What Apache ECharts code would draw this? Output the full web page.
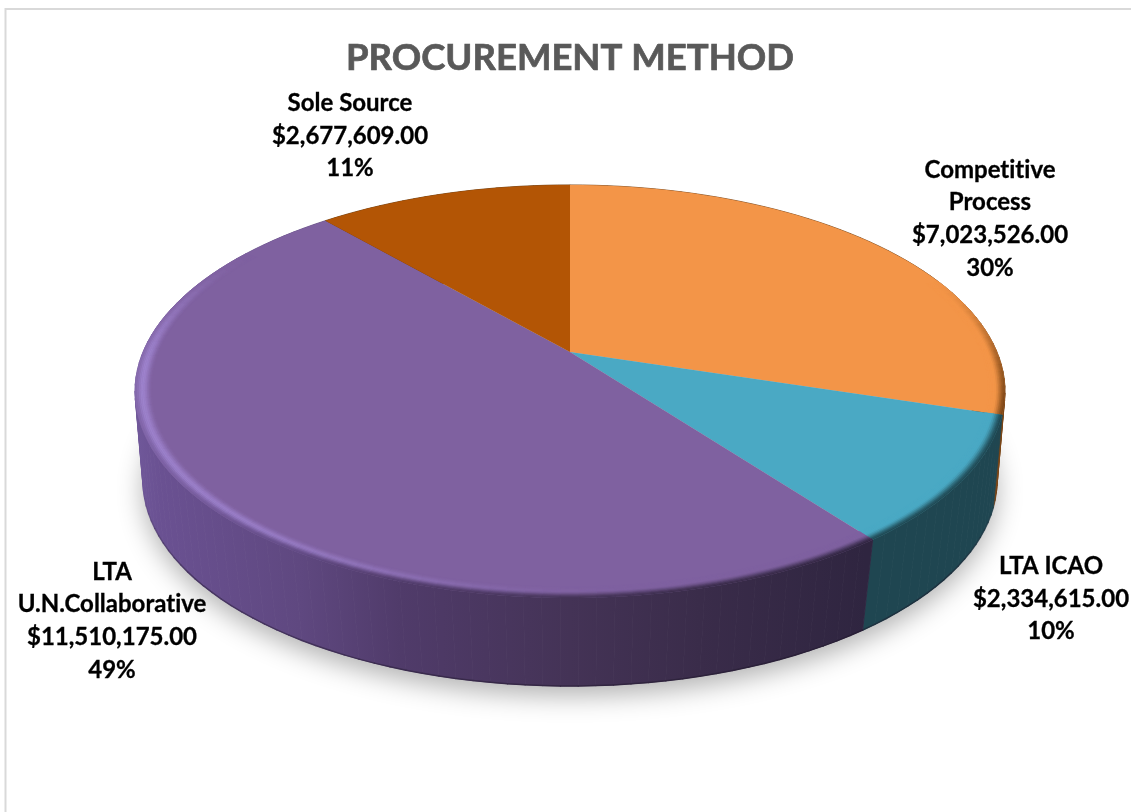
<!DOCTYPE html>
<html>
<head>
<meta charset="utf-8">
<style>html,body{margin:0;padding:0;background:#fff}#c{width:1131px;height:812px}</style>
<script src="https://cdn.jsdelivr.net/npm/echarts@6/dist/echarts.min.js"></script>
</head>
<body>
<div id="c"></div>
<script>
// ---- data ----
const chartTitle = 'PROCUREMENT METHOD';
const categories = ['Competitive\nProcess', 'LTA ICAO', 'LTA\nU.N.Collaborative', 'Sole Source'];
const amounts = [7023526, 2334615, 11510175, 2677609];

// ---- styles and layout ----
const faceColors = ['#f39548', '#4aa9c4', '#7f61a0', '#b35505'];
const lightColors = ['#f39548', '#4aa9c4', '#a085d0', '#b35505'];
const wallStops = [
  [[0, '#7a4516'], [2000, '#7a4516']],
  [[0, '#1f4651'], [2000, '#1f4651']],
  [[135, '#70589a'], [160, '#6a5192'], [300, '#5f4880'], [400, '#503b6a'], [570, '#443356'], [700, '#3a2c4a'], [866, '#2f2540'], [2000, '#2f2540']],
  [[0, '#6b3503'], [2000, '#6b3503']]
];
const labelCenters = [[990, 219], [1051, 599], [112, 621], [350, 136]];
const topPlane = {cx: 570, cy: 352, A: 427, B: 199, q: 0.191};
const basePlane = {cx: 570, cy: 445, A: 421, B: 200, q: 0.17};
const RIM_INNER = 0.962, RINGS = 10, STEP = 2;
const font = 'Lato, "Open Sans", sans-serif';

// Excel's font has no "ti" ligature: draw text without ligatures.
const nativeFill = CanvasRenderingContext2D.prototype.fillText;
CanvasRenderingContext2D.prototype.fillText = function () {
  this.textRendering = 'optimizeSpeed';
  return nativeFill.apply(this, arguments);
};
const nativeStroke = CanvasRenderingContext2D.prototype.strokeText;
CanvasRenderingContext2D.prototype.strokeText = function () {
  this.textRendering = 'optimizeSpeed';
  return nativeStroke.apply(this, arguments);
};

const total = amounts.reduce((a, b) => a + b, 0);
const starts = [];
amounts.reduce((acc, v, i) => { starts[i] = acc; return acc + v; }, 0);
const toAngle = v => v / total * 360;

function project(p, deg, r) {
  const t = deg * Math.PI / 180, u = r * Math.sin(t), v = r * Math.cos(t);
  const d = 1 + p.q * v;
  return [p.cx + p.A * u / d, p.cy - p.B * v / d];
}
const hex = c => [1, 3, 5].map(i => parseInt(c.substr(i, 2), 16));
function mix(a, b, t) {
  const x = hex(a), y = hex(b);
  return '#' + x.map((n, i) => Math.round(n + (y[i] - n) * t).toString(16).padStart(2, '0')).join('');
}
function stopsAt(stops, x) {
  if (x <= stops[0][0]) return stops[0][1];
  for (let i = 1; i < stops.length; i++) {
    if (x <= stops[i][0]) return mix(stops[i - 1][1], stops[i][1], (x - stops[i - 1][0]) / (stops[i][0] - stops[i - 1][0]));
  }
  return stops[stops.length - 1][1];
}
const smooth = (a, b, x) => { const t = Math.min(1, Math.max(0, (x - a) / (b - a))); return t * t * (3 - 2 * t); };
const darkAmt = th => smooth(65, 108, th) * (1 - smooth(205, 265, th));
const lightAmt = th => smooth(170, 228, th) * (1 - smooth(262, 305, th));

function segments(i) {
  const a0 = toAngle(starts[i]), a1 = toAngle(starts[i] + amounts[i]);
  const n = Math.max(2, Math.ceil((a1 - a0) / STEP)), out = [];
  for (let k = 0; k < n; k++) out.push([a0 + (a1 - a0) * k / n, a0 + (a1 - a0) * (k + 1) / n]);
  return out;
}
function wallGradient(i, darken) {
  const s = wallStops[i], lo = s[0][0], hi = s[s.length - 1][0];
  return {
    type: 'linear', global: true, x: lo, y: 0, x2: hi, y2: 0,
    colorStops: s.map(([x, c]) => ({offset: (x - lo) / (hi - lo), color: darken ? mix(c, '#1a1224', darken) : c}))
  };
}

function renderWall(params) {
  const i = params.dataIndex, kids = [];
  const fill = wallGradient(i, 0), edge = wallGradient(i, 0.4);
  segments(i).forEach(([a, b]) => {
    const p = [project(topPlane, a, 1), project(topPlane, b, 1), project(basePlane, b, 1), project(basePlane, a, 1)];
    kids.push({type: 'polygon', shape: {points: p}, style: {fill: fill, stroke: fill, lineWidth: 0.8}});
  });
  segments(i).forEach(([a, b]) => {
    const far = Math.cos((a + b) / 2 * Math.PI / 180);
    if (far < -0.2) {
      const p = project(basePlane, a, 1), q = project(basePlane, b, 1);
      kids.push({type: 'line', shape: {x1: p[0], y1: p[1], x2: q[0], y2: q[1]},
        style: {stroke: edge, lineWidth: 1.5, lineCap: 'round', opacity: Math.min(1, (-0.2 - far) * 2.5)}});
    }
  });
  return {type: 'group', children: kids};
}

function renderFace(params) {
  const i = params.dataIndex, kids = [];
  const segs = segments(i);
  const pts = [project(topPlane, 0, 0)];
  pts.push(project(topPlane, segs[0][0], 1));
  segs.forEach(s => pts.push(project(topPlane, s[1], 1)));
  kids.push({type: 'polygon', shape: {points: pts}, style: {fill: faceColors[i]}});
  segs.forEach(([a, b]) => {
    const m = (a + b) / 2, dk = darkAmt(m), lt = lightAmt(m);
    if (dk < 0.01 && lt < 0.01) return;
    const x = project(topPlane, m, 1)[0];
    const wall = stopsAt(wallStops[i], x);
    for (let r = 0; r < RINGS; r++) {
      const t0 = r / RINGS, t1 = (r + 1) / RINGS, t = (t0 + t1) / 2;
      const r0 = RIM_INNER + (1 - RIM_INNER) * t0, r1 = RIM_INNER + (1 - RIM_INNER) * t1;
      const bump = t < 0.62 ? smooth(0, 0.62, t) : 1 - 0.6 * smooth(0.62, 1, t);
      let c = mix(faceColors[i], lightColors[i], lt * bump);
      const outerDark = Math.max(dk, lt > 0 ? 0.5 * (1 - smooth(235, 285, m)) : 0);
      c = mix(c, wall, outerDark * smooth(0.4, 1.02, t));
      const p = [project(topPlane, a, r0), project(topPlane, b, r0), project(topPlane, b, r1), project(topPlane, a, r1)];
      kids.push({type: 'polygon', shape: {points: p}, style: {fill: c, stroke: c, lineWidth: 0.5}});
    }
  });
  return {type: 'group', children: kids};
}

function money(v) {
  return '$' + v.toLocaleString('en-US', {minimumFractionDigits: 2, maximumFractionDigits: 2});
}
function renderLabel(params) {
  const i = params.dataIndex;
  const txt = categories[i] + '\n' + money(amounts[i]) + '\n' + Math.round(amounts[i] / total * 100) + '%';
  return {type: 'text', style: {
    text: txt, x: labelCenters[i][0], y: labelCenters[i][1],
    align: 'center', verticalAlign: 'middle',
    fill: '#000', font: 'bold 24px ' + font, lineHeight: 32.7,
    stroke: '#000', lineWidth: 0.3
  }};
}
function renderShadow() {
  const pts = [];
  for (let a = 0; a < 360; a += 4) pts.push(project(basePlane, a, 1));
  return {type: 'polygon', shape: {points: pts}, style: {
    fill: '#c8c8c8', shadowColor: 'rgba(0,0,0,0.3)', shadowBlur: 26, shadowOffsetY: 10
  }};
}

const seriesData = amounts.map((v, i) => ({name: categories[i], value: v}));
const chart = echarts.init(document.getElementById('c'), null, {renderer: 'canvas'});
chart.setOption({
  animation: false,
  backgroundColor: '#ffffff',
  title: {
    text: chartTitle, left: 565, top: 35, textAlign: 'center',
    textStyle: {color: '#595959', fontFamily: font, fontWeight: 'bold', fontSize: 36.5,
      textBorderColor: '#595959', textBorderWidth: 0.7}
  },
  graphic: [{
    type: 'polyline', silent: true,
    shape: {points: [[5.5, 812], [5.5, 9], [1131, 9]]},
    style: {stroke: '#d9d9d9', lineWidth: 2, fill: null}
  }],
  series: [
    {type: 'custom', coordinateSystem: 'none', silent: true, z: 1, data: [0], renderItem: renderShadow},
    {type: 'custom', coordinateSystem: 'none', silent: true, z: 2, data: seriesData, renderItem: renderWall},
    {type: 'custom', coordinateSystem: 'none', silent: true, z: 3, data: seriesData, renderItem: renderFace},
    {type: 'custom', coordinateSystem: 'none', silent: true, z: 4, data: seriesData, renderItem: renderLabel}
  ]
});
</script>
</body>
</html>
